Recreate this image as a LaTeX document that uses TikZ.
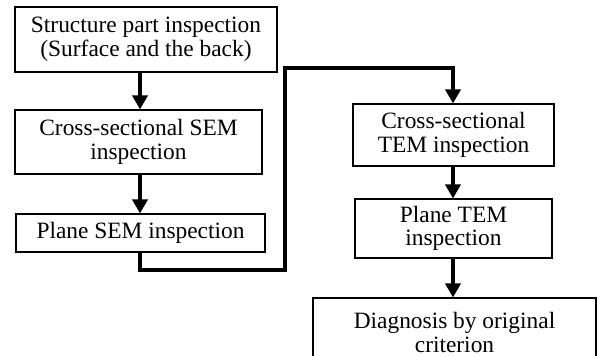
\documentclass[tikz,border=0pt]{standalone}
\usepackage{fontspec}
\setmainfont{Liberation Serif}
\usetikzlibrary{arrows.meta}
\begin{document}
\begin{tikzpicture}[x=0.5pt,y=-0.5pt,
  box/.style={draw,line width=0.55pt,inner sep=0pt,align=center,font=\fontsize{11.7pt}{11.8pt}\selectfont},
  flow/.style={line width=2pt,-{Triangle[width=7.5pt,length=7pt]}},
  link/.style={line width=2pt}]
\useasboundingbox (0,0) rectangle (600,356);
\clip (0,0) rectangle (600,356);
\node[box,minimum width=131pt,minimum height=32.5pt] (b1) at (146,39.5) {Structure part inspection\\(Surface and the back)};
\node[box,minimum width=123.5pt,minimum height=32pt] (b2) at (138.5,142) {Cross-sectional SEM\\inspection};
\node[box,minimum width=124.5pt,minimum height=19pt] (b3) at (140.5,233) {Plane SEM inspection};
\node[box,minimum width=100.5pt,minimum height=31pt] (b4) at (453.5,135) {Cross-sectional\\TEM inspection};
\node[box,minimum width=98.5pt,minimum height=29.5pt] (b5) at (453.5,228.5) {Plane TEM\\inspection};
\node[box,line width=1pt,minimum width=141.5pt,minimum height=34pt,anchor=north west] (b6) at (312,297.5) {Diagnosis by original\\criterion};
\coordinate (cl) at (140,0);
\coordinate (cr) at (453,0);
\coordinate (c1) at (140,270);
\coordinate (c2) at (285,270);
\coordinate (c3) at (285,68);
\coordinate (c4) at (453,68);
\draw[flow] (b1.south -| cl) -- (b2.north -| cl);
\draw[flow] (b2.south -| cl) -- (b3.north -| cl);
\draw[flow] (b3.south -| cl) -- (c1) -- (c2) -- (c3) -- (c4) -- (b4.north -| cr);
\draw[flow] (b4.south -| cr) -- (b5.north -| cr);
\draw[flow] (b5.south -| cr) -- (b6.north -| cr);
\end{tikzpicture}
\end{document}
